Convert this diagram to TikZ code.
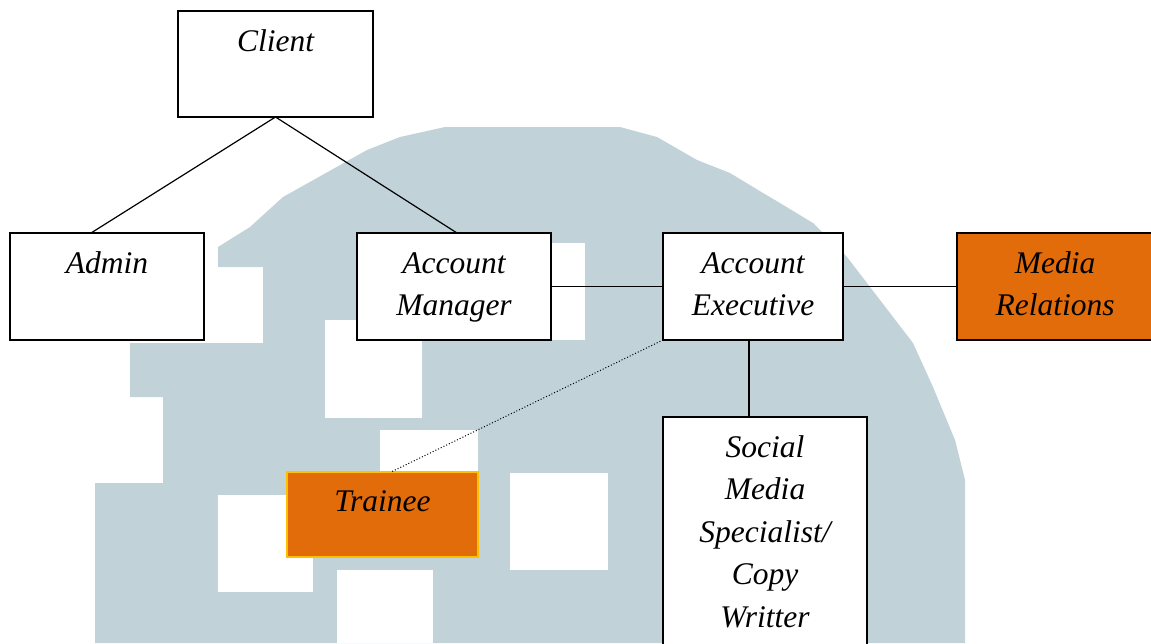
\documentclass[tikz,border=0pt]{standalone}
\usepackage{fontspec}
\setmainfont{Liberation Serif}
\definecolor{orangefill}{RGB}{226,107,10}
\definecolor{goldborder}{RGB}{255,192,0}
\definecolor{wmblue}{RGB}{193,211,217}
\begin{document}
\begin{tikzpicture}[x=1pt,y=-1pt,
  box/.style={draw=black,line width=1.6pt,fill=white,inner sep=0pt,outer sep=0pt,minimum height=107pt},
  obox/.style={box,fill=orangefill},
  lbl/.style={anchor=base,text width=190pt,align=center,inner sep=0pt,font=\fontsize{31.5}{42.5}\selectfont\itshape},
  conn/.style={line width=1.2pt},
  dotconn/.style={line width=1pt,dash pattern=on 1pt off 2pt},
  wm/.style={fill=wmblue,draw=none},
  win/.style={fill=white,draw=none}]
\useasboundingbox (0,0) rectangle (1151,643);
% watermark
\fill[wm] (95,643) -- (95,483) -- (163,483) -- (163,397) -- (130,397) -- (130,343)
  -- (263,343) -- (263,267) -- (218,267) -- (218,247) -- (250,227) -- (283,197)
  -- (367,150) -- (400,137) -- (445,127) -- (620,127) -- (657,137) -- (697,160)
  -- (730,173) -- (763,193) -- (780,203) -- (813,223) -- (847,257) -- (880,300)
  -- (913,343) -- (933,387) -- (955,440) -- (965,480) -- (965,643) -- cycle;
\fill[win] (325,320) rectangle (422,418);
\fill[win] (380,430) rectangle (478,525);
\fill[win] (510,473) rectangle (608,570);
\fill[win] (218,495) rectangle (313,592);
\fill[win] (337,570) rectangle (433,643);
\fill[win] (490,243) rectangle (585,340);
% boxes
\node[box,minimum width=195pt,minimum height=106pt] (client) at (275.5,64) {};
\node[box,minimum width=194pt] (admin) at (107,286.5) {};
\node[box,minimum width=194pt] (am) at (454,286.5) {};
\node[box,minimum width=180pt] (ae) at (753,286.5) {};
\node[obox,minimum width=196pt] (mr) at (1055,286.5) {};
\node[box,fill=orangefill,draw=goldborder,minimum width=191pt,minimum height=85pt] (trainee) at (382.5,514.5) {};
\node[box,minimum width=204pt,minimum height=283pt] (sm) at (765,558.5) {};
% labels
\node[lbl] (tclient) at ([yshift=-40pt]client.north) {Client};
\node[lbl] (tadmin) at ([yshift=-40pt]admin.north) {Admin};
\node[lbl] (tam) at ([yshift=-40pt]am.north) {Account\\Manager};
\node[lbl] (tae) at ([yshift=-40pt]ae.north) {Account\\Executive};
\node[lbl] (tmr) at ([yshift=-40pt]mr.north) {Media\\Relations};
\node[lbl] (ttrainee) at ([yshift=-39pt]trainee.north) {Trainee};
\node[lbl] (tsm) at ([yshift=-40pt]sm.north) {Social\\Media\\Specialist/\\Copy\\Writter};
% connectors
\draw[conn] (client.south) -- ([xshift=-16pt]admin.north);
\draw[conn] (client.south) -- ([xshift=3pt]am.north);
\draw[conn] (am.east) -- (ae.west);
\draw[conn] (ae.east) -- (mr.west);
\draw[conn] ([xshift=-4pt]ae.south) -- ([xshift=-4pt]ae.south |- sm.north);
\draw[dotconn] (ae.south west) -- ([xshift=8.5pt]trainee.north);
\end{tikzpicture}
\end{document}
